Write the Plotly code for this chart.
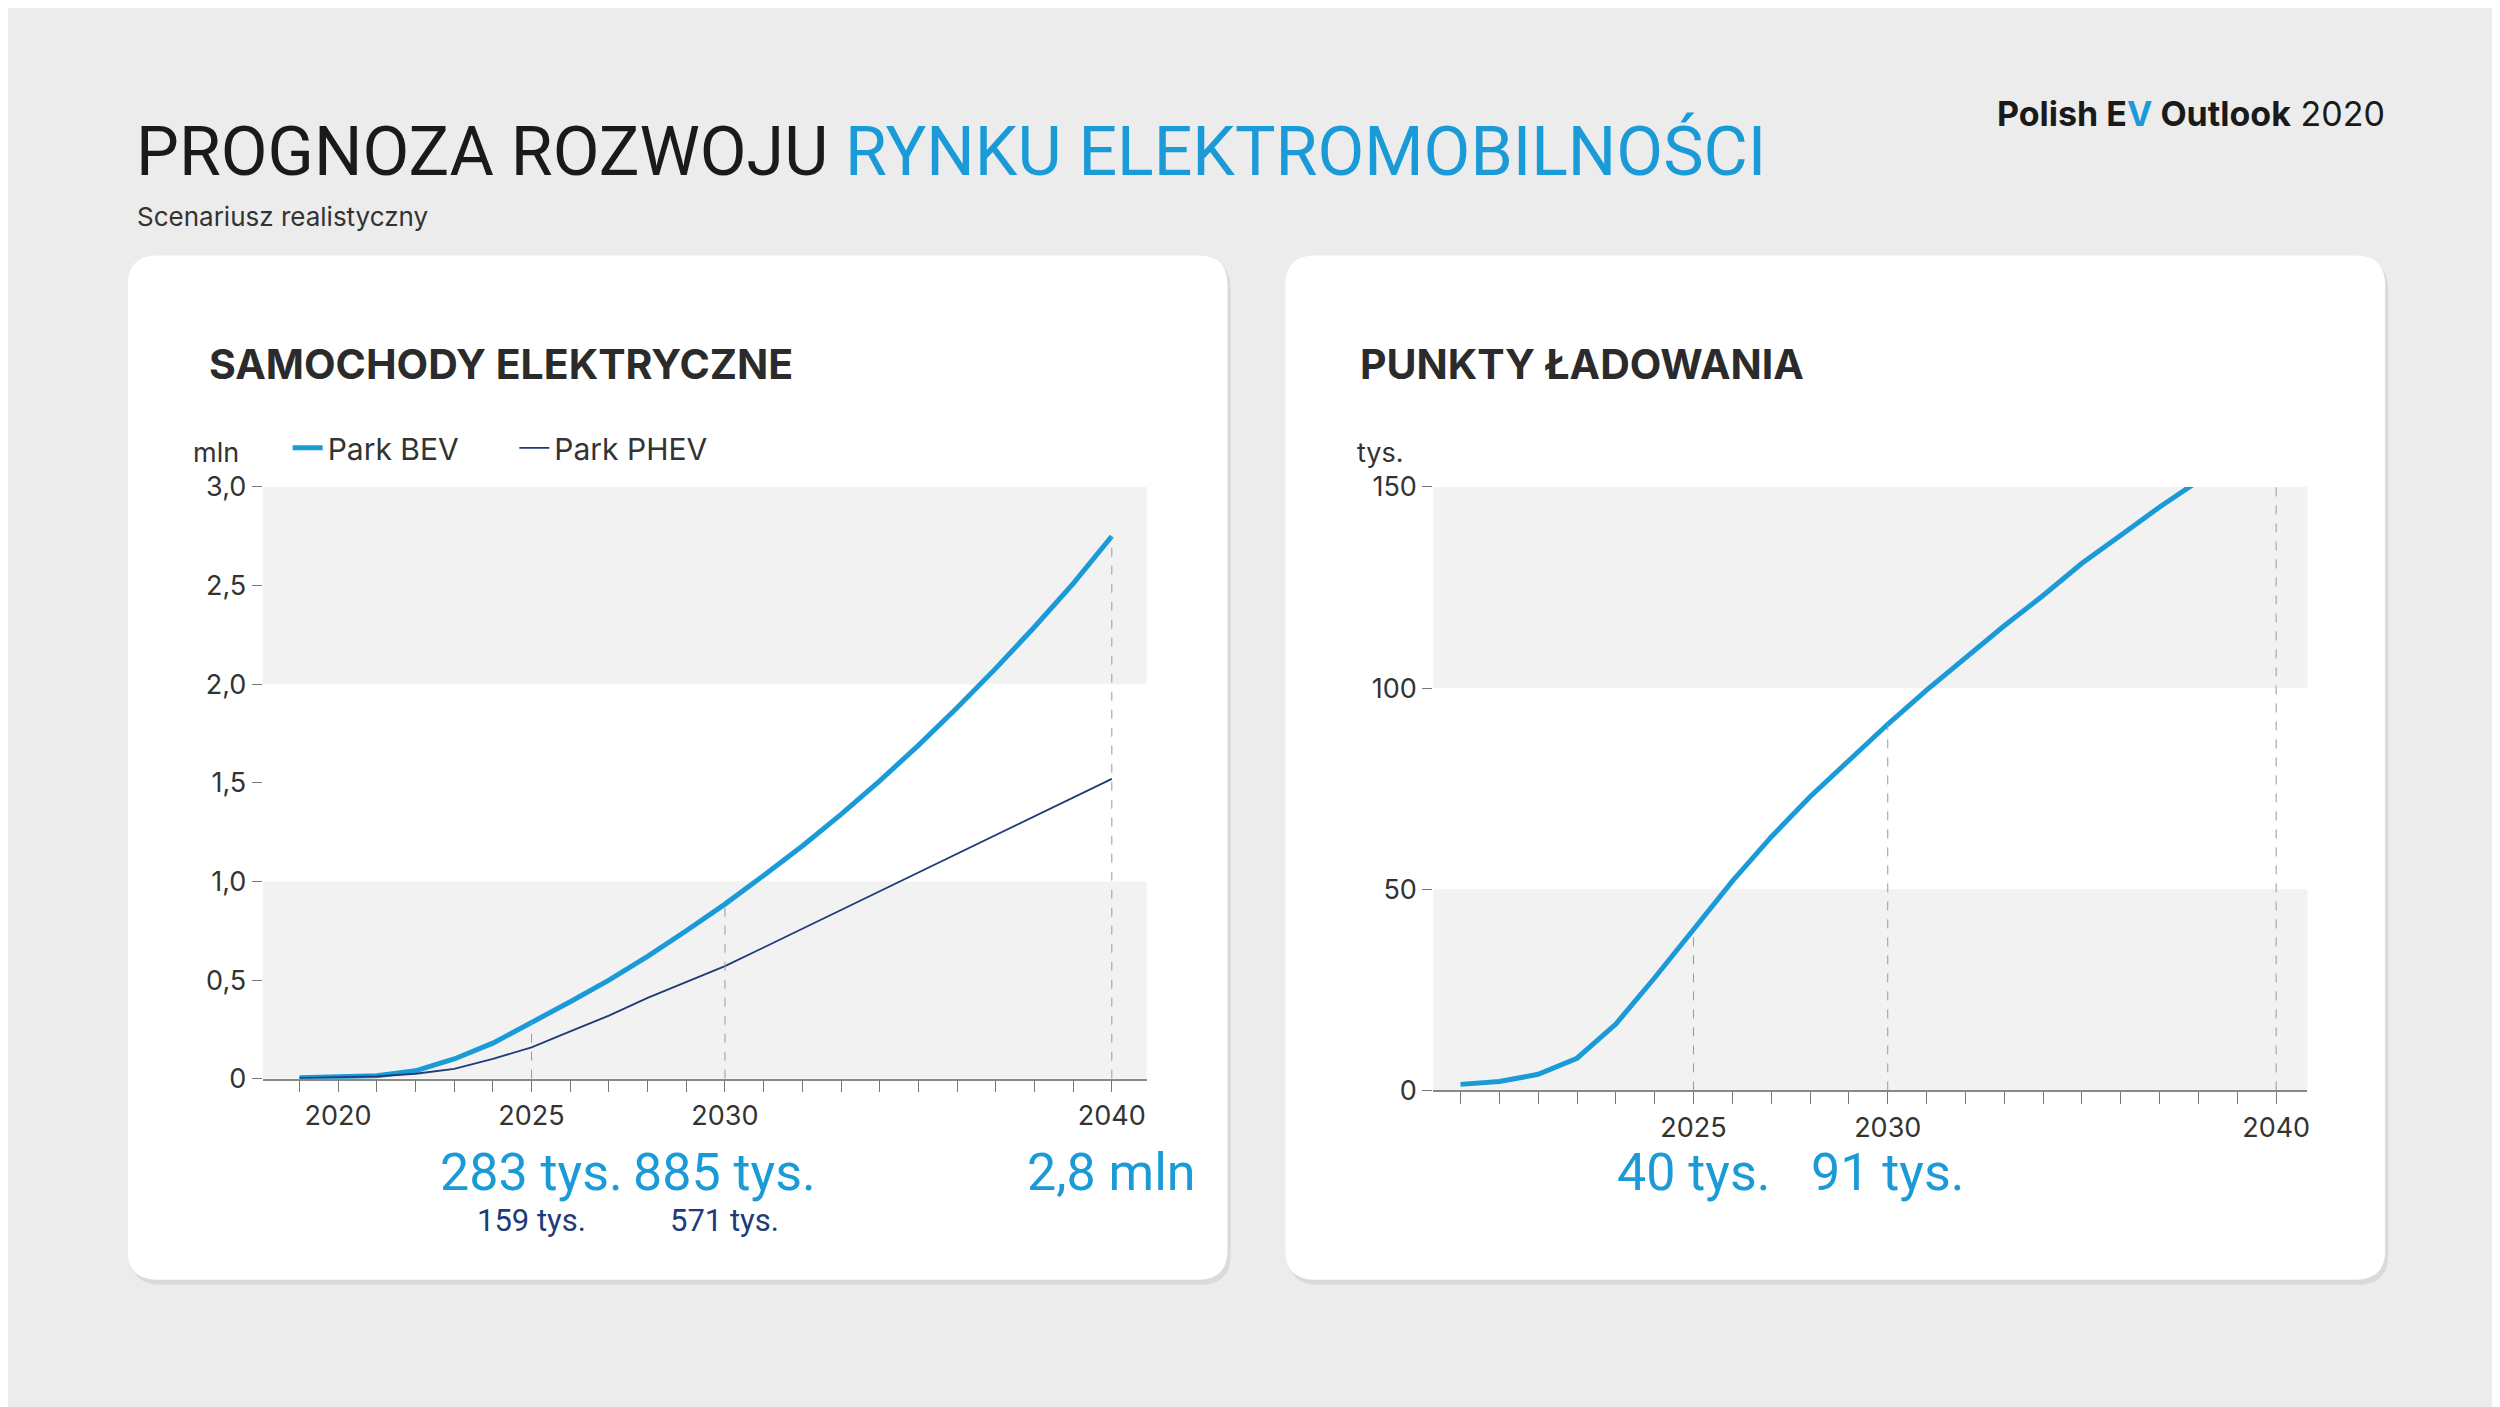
import plotly.graph_objects as go

# dane
lata = list(range(2019, 2041))
bev = [0.005, 0.01, 0.015, 0.04, 0.1, 0.18, 0.283, 0.39, 0.5, 0.62, 0.75, 0.885,
       1.03, 1.18, 1.34, 1.51, 1.69, 1.88, 2.08, 2.29, 2.51, 2.75]
phev = [0.003, 0.007, 0.012, 0.025, 0.05, 0.1, 0.159, 0.24, 0.32, 0.41, 0.49, 0.571,
        0.665, 0.76, 0.855, 0.95, 1.045, 1.14, 1.235, 1.33, 1.425, 1.52]
punkty = [1.5, 2.2, 4, 8, 16.5, 28, 40, 52, 63, 73, 82, 91,
          99.5, 107.5, 115.5, 123, 131, 138, 145, 151.5, 158, 165]
y1_ticks = [0, 0.5, 1, 1.5, 2, 2.5, 3]
y1_text = ["0", "0,5", "1,0", "1,5", "2,0", "2,5", "3,0"]
y2_ticks = [0, 50, 100, 150]
x1_labels = {2020: "2020", 2025: "2025", 2030: "2030", 2040: "2040"}
x2_labels = {2025: "2025", 2030: "2030", 2040: "2040"}
bev_opisy = {2025: "283 tys.", 2030: "885 tys.", 2040: "2,8 mln"}
phev_opisy = {2025: "159 tys.", 2030: "571 tys."}
punkty_opisy = {2025: "40 tys.", 2030: "91 tys."}

W, H = 2500, 1407
BLUE = "#1b9ad8"
NAVY = "#1f3b78"
FONT = "Inter"
NUMFONT = "Roboto"

def px(x):
    return x / W

def py(y):
    return 1 - y / H

fig = go.Figure()

fig.add_trace(go.Scatter(x=lata, y=bev, name="Park BEV      ", line=dict(color=BLUE, width=5),
                         mode="lines", xaxis="x", yaxis="y", cliponaxis=False))
fig.add_trace(go.Scatter(x=lata, y=phev, name="Park PHEV", line=dict(color=NAVY, width=1.8),
                         mode="lines", xaxis="x", yaxis="y", cliponaxis=False))
fig.add_trace(go.Scatter(x=lata, y=punkty, showlegend=False, line=dict(color=BLUE, width=5),
                         mode="lines", xaxis="x2", yaxis="y2", cliponaxis=False))

# przerywane linie pionowe
for rok in bev_opisy:
    fig.add_trace(go.Scatter(x=[rok, rok], y=[0, bev[lata.index(rok)]], mode="lines",
                             line=dict(color="#999", width=1, dash="dash"), showlegend=False,
                             xaxis="x", yaxis="y", hoverinfo="skip"))
for rok in list(punkty_opisy) + [2040]:
    fig.add_trace(go.Scatter(x=[rok, rok], y=[0, punkty[lata.index(rok)]], mode="lines",
                             line=dict(color="#999", width=1, dash="dash"), showlegend=False,
                             xaxis="x2", yaxis="y2", hoverinfo="skip"))

shapes = []

# karty (w układzie paper)
def rounded(x0, y0, x1, y1, r=30):
    X = lambda v: v / W
    Y = lambda v: 1 - v / H
    rx, ry = r / W, r / H
    a, b, c, d = X(x0), Y(y0), X(x1), Y(y1)  # b top, d bottom
    return (f"M {a+rx},{b} L {c-rx},{b} Q {c},{b} {c},{b-ry} L {c},{d+ry} "
            f"Q {c},{d} {c-rx},{d} L {a+rx},{d} Q {a},{d} {a},{d+ry} "
            f"L {a},{b-ry} Q {a},{b} {a+rx},{b} Z")

for x0, x1 in [(120, 1221), (1279, 2380)]:
    shapes.append(dict(type="path", xref="paper", yref="paper",
                       path=rounded(x0 + 3, 240, x1 + 3, 1290), fillcolor="#dadada",
                       line=dict(width=0), layer="below"))
    shapes.append(dict(type="path", xref="paper", yref="paper", path=rounded(x0, 236, x1, 1285),
                       fillcolor="white", line=dict(width=0), layer="below"))

# pasy tła
for y0, y1 in [(0, 1), (2, 3)]:
    shapes.append(dict(type="rect", xref="x domain", yref="y", x0=0, x1=1, y0=y0, y1=y1,
                       fillcolor="#f2f2f2", line=dict(width=0), layer="below"))
for y0, y1 in [(0, 50), (100, 150)]:
    shapes.append(dict(type="rect", xref="x2 domain", yref="y2", x0=0, x1=1, y0=y0, y1=y1,
                       fillcolor="#f2f2f2", line=dict(width=0), layer="below"))

ann = []
ann.append(dict(x=px(126), y=py(130), xref="paper", yref="paper", xanchor="left", yanchor="middle",
                text="PROGNOZA ROZWOJU <span style='color:%s'>RYNKU ELEKTROMOBILNOŚCI</span>" % BLUE,
                font=dict(family=NUMFONT, size=68, color="#1a1a1a"), showarrow=False))
ann.append(dict(x=px(127), y=py(196), xref="paper", yref="paper", xanchor="left", yanchor="middle",
                text="Scenariusz realistyczny", font=dict(family=FONT, size=26, color="#333"),
                showarrow=False))
ann.append(dict(x=px(2382), y=py(91), xref="paper", yref="paper", xanchor="right", yanchor="middle",
                text="<b>Polish E<span style='color:%s'>V</span> Outlook</b> 2020" % BLUE,
                font=dict(family=FONT, size=34, color="#1a1a1a"), showarrow=False))
for x, t in [(199, "SAMOCHODY ELEKTRYCZNE"), (1352, "PUNKTY ŁADOWANIA")]:
    ann.append(dict(x=px(x), y=py(347), xref="paper", yref="paper", xanchor="left", yanchor="middle",
                    text="<b>" + t + "</b>", font=dict(family=FONT, size=41, color="#2b2b2b"),
                    showarrow=False))
ann.append(dict(x=px(208), y=py(438), xref="paper", yref="paper", xanchor="center", yanchor="middle",
                text="mln", font=dict(family=FONT, size=27, color="#333"), showarrow=False))
ann.append(dict(x=px(1374), y=py(438), xref="paper", yref="paper", xanchor="center", yanchor="middle",
                text="tys.", font=dict(family=FONT, size=27, color="#333"), showarrow=False))

for rok, t in bev_opisy.items():
    ann.append(dict(x=rok, y=py(1175), xref="x", yref="paper", xanchor="center", yanchor="middle",
                    text=t, font=dict(family=NUMFONT, size=52, color=BLUE), showarrow=False))
for rok, t in phev_opisy.items():
    ann.append(dict(x=rok, y=py(1224), xref="x", yref="paper", xanchor="center", yanchor="middle",
                    text=t, font=dict(family=NUMFONT, size=31, color=NAVY), showarrow=False))
for rok, t in punkty_opisy.items():
    ann.append(dict(x=rok, y=py(1175), xref="x2", yref="paper", xanchor="center", yanchor="middle",
                    text=t, font=dict(family=NUMFONT, size=52, color=BLUE), showarrow=False))

axis_common = dict(showgrid=False, zeroline=False, ticks="outside", tickcolor="#777",
                   tickfont=dict(family=FONT, size=27, color="#333"))

fig.update_layout(
    width=W, height=H, margin=dict(l=0, r=0, t=0, b=0),
    paper_bgcolor="#ececec", plot_bgcolor="rgba(0,0,0,0)",
    shapes=shapes, annotations=ann,
    legend=dict(orientation="h", x=px(280), y=py(433), xanchor="left", yanchor="middle",
                font=dict(family=FONT, size=30, color="#333"), bgcolor="rgba(0,0,0,0)"),
    xaxis=dict(domain=[px(255), px(1140)], range=[2018.05, 2040.9], anchor="y",
               tickvals=lata, ticktext=[x1_labels.get(r, "") for r in lata], ticklen=12,
               showline=True, linecolor="#888", linewidth=1.5, **axis_common),
    yaxis=dict(domain=[py(1079), py(473)], range=[0, 3.0], anchor="x",
               tickvals=y1_ticks, ticktext=y1_text, ticklen=10, **axis_common),
    xaxis2=dict(domain=[px(1427), px(2302)], range=[2018.3, 2040.8], anchor="y2",
                tickvals=lata, ticktext=[x2_labels.get(r, "") for r in lata], ticklen=12,
                showline=True, linecolor="#888", linewidth=1.5, **axis_common),
    yaxis2=dict(domain=[py(1091), py(473)], range=[0, 150], anchor="x2",
                tickvals=y2_ticks, ticklen=10, **axis_common),
)

fig.write_html("out.html")
